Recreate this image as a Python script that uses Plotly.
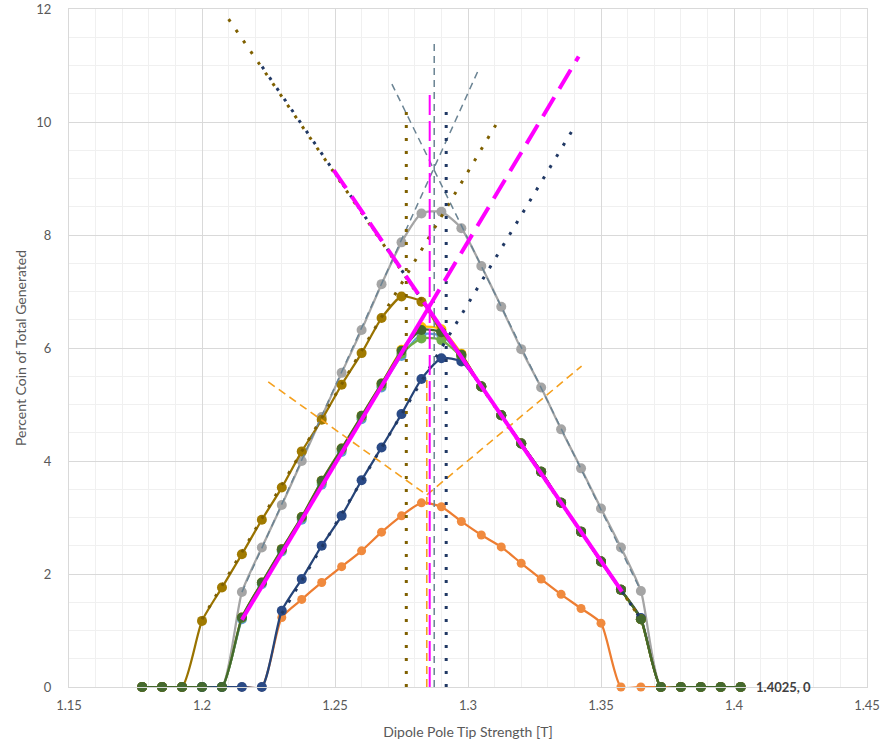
import plotly.graph_objects as go

# ---- data ----
pole_tip_T = [1.1775, 1.185, 1.1925, 1.2, 1.2075, 1.215, 1.2225, 1.23, 1.2375, 1.245,
              1.2525, 1.26, 1.2675, 1.275, 1.2825, 1.29, 1.2975, 1.305, 1.3125, 1.32,
              1.3275, 1.335, 1.3425, 1.35, 1.3575, 1.365, 1.3725, 1.38, 1.3875, 1.395, 1.4025]

orange_pct = [0, 0, 0, 0, 0, 0, 0, 1.23, 1.55, 1.85, 2.13, 2.41, 2.74, 3.03, 3.26, 3.19,
              2.93, 2.69, 2.48, 2.19, 1.91, 1.64, 1.39, 1.13, 0, 0, 0, 0, 0, 0, 0]
gray_pct = [0, 0, 0, 0, 0, 1.68, 2.47, 3.22, 4.0, 4.78, 5.56, 6.32, 7.13, 7.87, 8.38, 8.41,
            8.12, 7.45, 6.73, 5.98, 5.3, 4.56, 3.87, 3.16, 2.47, 1.7, 0, 0, 0, 0, 0]
yellow_pct = [0, 0, 0, 0, 0, 1.23, 1.85, 2.44, 3.01, 3.65, 4.22, 4.8, 5.37, 5.97, 6.37, 6.33,
              5.9, 5.32, 4.81, 4.31, 3.81, 3.26, 2.75, 2.22, 1.72, 1.2, 0, 0, 0, 0, 0]
lightblue_pct = [0, 0, 0, 0, 0, 1.2, 1.82, 2.4, 2.96, 3.58, 4.16, 4.74, 5.3, 5.86, 6.24, 6.22,
                 5.86, 5.32, 4.81, 4.31, 3.81, 3.26, 2.75, 2.22, 1.72, 1.2, 0, 0, 0, 0, 0]
lightgreen_pct = [0, 0, 0, 0, 0, 1.22, 1.84, 2.42, 2.99, 3.62, 4.2, 4.77, 5.33, 5.9, 6.17, 6.14,
                  5.84, 5.32, 4.81, 4.31, 3.81, 3.26, 2.75, 2.22, 1.72, 1.2, 0, 0, 0, 0, 0]
darkblue_pct = [0, 0, 0, 0, 0, 0, 0, 1.35, 1.91, 2.5, 3.03, 3.66, 4.24, 4.83, 5.45, 5.82,
                5.76, 5.32, 4.81, 4.31, 3.81, 3.26, 2.75, 2.22, 1.72, 1.22, 0, 0, 0, 0, 0]
olive_pct = [0, 0, 0, 1.17, 1.76, 2.35, 2.96, 3.53, 4.17, 4.73, 5.35, 5.91, 6.53, 6.91, 6.82,
             6.28, 5.88, 5.32, 4.81, 4.31, 3.81, 3.26, 2.75, 2.22, 1.72, 1.2, 0, 0, 0, 0, 0]
darkgreen_pct = [0, 0, 0, 0, 0, 1.23, 1.85, 2.44, 3.01, 3.65, 4.22, 4.8, 5.37, 5.95, 6.32, 6.28,
                 5.88, 5.32, 4.81, 4.31, 3.81, 3.26, 2.75, 2.22, 1.72, 1.2, 0, 0, 0, 0, 0]

# fitted side lines (end points)
olive_up_x, olive_up_y = [1.2, 1.3106], [1.2, 9.96]
olive_down_x, olive_down_y = [1.21, 1.365], [11.82, 1.2]
olive_peak_x, olive_peak_y = [1.2768, 1.2768], [0, 10.22]
blue_up_x, blue_up_y = [1.23, 1.3397], [1.3, 9.89]
blue_down_x, blue_down_y = [1.2226, 1.365], [10.98, 1.2]
blue_peak_x, blue_peak_y = [1.2918, 1.2918], [0, 10.22]
gray_up_x, gray_up_y = [1.215, 1.304], [1.68, 10.93]
gray_down_x, gray_down_y = [1.2714, 1.3648], [10.67, 1.72]
gray_peak_x, gray_peak_y = [1.2873, 1.2873], [0, 11.4]
mag_up_solid_x, mag_up_solid_y = [1.215, 1.285], [1.19, 6.7]
mag_up_dash_x, mag_up_dash_y = [1.285, 1.3416], [6.7, 11.16]
mag_down_dash_x, mag_down_dash_y = [1.2495, 1.285], [9.15, 6.7]
mag_down_solid_x, mag_down_solid_y = [1.285, 1.3579], [6.7, 1.69]
mag_peak_x, mag_peak_y = [1.2856, 1.2856], [0, 10.51]
orange_down_x, orange_down_y = [1.2249, 1.2845], [5.40, 3.40]
orange_up_x, orange_up_y = [1.2845, 1.3427], [3.40, 5.68]
orange_peak_x, orange_peak_y = [1.2845, 1.2845], [0, 5.5]

label_x, label_y = 1.4025, 0

x_ticks = [1.15, 1.2, 1.25, 1.3, 1.35, 1.4, 1.45]
x_tick_text = ["1.15", "1.2", "1.25", "1.3", "1.35", "1.4", "1.45"]
y_ticks = [0, 2, 4, 6, 8, 10, 12]

FONT = "Lato, 'Liberation Sans', sans-serif"

fig = go.Figure()

def series(y, color, size=10, mcolor=None):
    fig.add_trace(go.Scatter(
        x=pole_tip_T, y=y, mode="lines+markers",
        line=dict(color=color, width=2.25, shape="spline", smoothing=0.6),
        marker=dict(color=mcolor or color, size=size),
        cliponaxis=False, hoverinfo="skip"))

series(orange_pct, "#ED7D31", size=9, mcolor="#F08A3E")
series(gray_pct, "#A5A5A5")
series(yellow_pct, "#FFC000")
series(lightblue_pct, "#5B9BD5")
series(lightgreen_pct, "#70AD47")
series(darkblue_pct, "#264478", mcolor="#2A4A86")
series(olive_pct, "#997300", mcolor="#A07A00")
series(darkgreen_pct, "#43682B", mcolor="#44692E")

def seg(x, y, color, width, dash):
    fig.add_trace(go.Scatter(x=x, y=y, mode="lines",
                             line=dict(color=color, width=width, dash=dash),
                             hoverinfo="skip"))

OLIVE_DOT = "#7F6000"
BLUE_DOT = "#203864"
GRAY_DASH = "#6A8393"
MAG = "#FF00FF"
ORANGE_DASH = "#F5A01E"

seg(orange_down_x, orange_down_y, ORANGE_DASH, 1.6, "8px,5px")
seg(orange_up_x, orange_up_y, ORANGE_DASH, 1.6, "8px,5px")
seg(orange_peak_x, orange_peak_y, ORANGE_DASH, 1.6, "8px,5px")

seg(gray_up_x, gray_up_y, GRAY_DASH, 1.5, "7px,5px")
seg(gray_down_x, gray_down_y, GRAY_DASH, 1.5, "7px,5px")
seg(gray_peak_x, gray_peak_y, GRAY_DASH, 1.5, "7px,5px")

seg(olive_up_x, olive_up_y, OLIVE_DOT, 3, "3px,10px")
seg(olive_down_x, olive_down_y, OLIVE_DOT, 3, "3px,10px")
seg(olive_peak_x, olive_peak_y, OLIVE_DOT, 3, "3px,10px")
seg(blue_up_x, blue_up_y, BLUE_DOT, 3, "3px,10px")
seg(blue_down_x, blue_down_y, BLUE_DOT, 3, "3px,10px")
seg(blue_peak_x, blue_peak_y, BLUE_DOT, 3, "3px,10px")

seg(mag_up_solid_x, mag_up_solid_y, MAG, 4, "solid")
seg(mag_down_solid_x, mag_down_solid_y, MAG, 4, "solid")
seg(mag_up_dash_x, mag_up_dash_y, MAG, 4, "22px,10px")
seg(mag_down_dash_x, mag_down_dash_y, MAG, 4, "22px,10px")
seg(mag_peak_x, mag_peak_y, MAG, 2, "20px,6px")

fig.add_annotation(x=label_x, y=label_y, text="<b>1.4025, 0</b>", showarrow=False,
                   xanchor="left", yanchor="middle", xshift=13,
                   font=dict(family=FONT, size=13, color="#404040"))

axis_common = dict(
    showgrid=True, gridcolor="#D9D9D9", gridwidth=1,
    zeroline=False, showline=True, linecolor="#D9D9D9", linewidth=1, mirror=True,
    tickfont=dict(family=FONT, size=13, color="#595959"),
    ticks="", fixedrange=True, automargin=False,
)

fig.update_xaxes(range=[1.15, 1.45], tickvals=x_ticks, ticktext=x_tick_text,
                 minor=dict(dtick=0.01, tick0=1.15, showgrid=True, gridcolor="#F0F0F0", gridwidth=1),
                 title=dict(text="Dipole Pole Tip Strength [T]",
                            font=dict(family=FONT, size=14, color="#595959"), standoff=15),
                 ticklabelstandoff=6,
                 **axis_common)
fig.update_yaxes(range=[0, 12], tickvals=y_ticks,
                 minor=dict(dtick=0.5, tick0=0, showgrid=True, gridcolor="#F0F0F0", gridwidth=1),
                 title=dict(text="Percent Coin of Total Generated",
                            font=dict(family=FONT, size=14, color="#595959"), standoff=6),
                 ticklabelstandoff=14,
                 **axis_common)

fig.update_layout(
    width=890, height=743,
    margin=dict(l=69, r=23, t=9, b=56),
    paper_bgcolor="white", plot_bgcolor="white",
    showlegend=False,
    font=dict(family=FONT),
)

fig.write_html("out.html")
